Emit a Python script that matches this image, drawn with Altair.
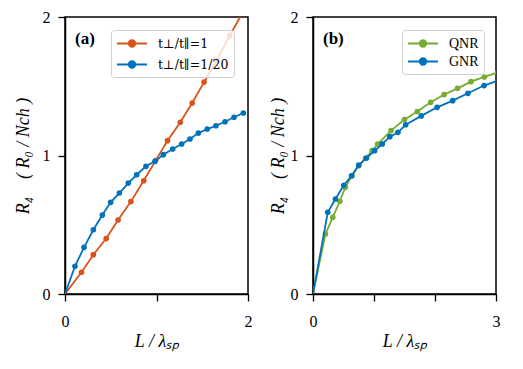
import altair as alt
import pandas as pd

# Panel (a)
a_names = ["t⊥/t∥=1", "t⊥/t∥=1/20"]
a1_x = [0, 0.18, 0.31, 0.45, 0.58, 0.72, 0.86, 0.99, 1.12, 1.26, 1.39, 1.52, 1.66, 1.80, 1.94]
a1_y = [0, 0.157, 0.284, 0.40, 0.534, 0.667, 0.818, 0.963, 1.107, 1.24, 1.379, 1.53, 1.69, 1.865, 2.03]
a2_x = [0, 0.109, 0.208, 0.31, 0.408, 0.499, 0.594, 0.692, 0.783, 0.885, 0.984, 1.075,
        1.177, 1.275, 1.366, 1.457, 1.555, 1.650, 1.749, 1.847, 1.949]
a2_y = [0, 0.2, 0.337, 0.464, 0.570, 0.662, 0.729, 0.801, 0.861, 0.922, 0.958, 1.006,
        1.047, 1.083, 1.119, 1.162, 1.191, 1.215, 1.244, 1.276, 1.307]

# Panel (b)
b_names = ["QNR", "GNR"]
b1_x = [0, 0.204, 0.324, 0.44, 0.53, 0.64, 0.75, 0.86, 0.97, 1.06, 1.28, 1.50, 1.71, 1.93,
        2.15, 2.37, 2.59, 2.81, 3.03]
b1_y = [0, 0.433, 0.554, 0.67, 0.77, 0.854, 0.926, 0.98, 1.035, 1.083, 1.18, 1.26, 1.318,
        1.384, 1.44, 1.485, 1.533, 1.567, 1.60]
b2_x = [0, 0.242, 0.368, 0.505, 0.632, 0.75, 0.878, 1.01, 1.135, 1.26, 1.393, 1.52, 1.775,
        2.035, 2.29, 2.54, 2.805, 3.06]
b2_y = [0, 0.59, 0.686, 0.785, 0.854, 0.931, 0.982, 1.035, 1.083, 1.136, 1.167, 1.222, 1.286,
        1.348, 1.396, 1.449, 1.505, 1.545]

y_ticks = [0, 1, 2]

a_colors = ["#D95319", "#0072BD"]
b_colors = ["#77AC30", "#0072BD"]

FONT = "Liberation Serif"
# legend glyph: a line with a dot in the middle (unit = sqrt(size)/2)
SYM = "M-1,0H3M1.44,0A0.44,0.44,0,1,1,0.56,0A0.44,0.44,0,1,1,1.44,0Z"
Y_TITLE = "R₄\u2003( R₀ / Nch )"


def series_df(xs, ys, name):
    return pd.DataFrame({"x": xs, "y": ys, "s": name, "m": [i > 0 for i in range(len(xs))]})


def panel(series, names, colors, xmax, xticks, xlabels, tag, lx, lfont, lsize, rowpad, tpad):
    xlab_expr = " || ".join(f"datum.value == {v}" for v in xlabels)
    xenc = alt.X("x:Q", scale=alt.Scale(domain=[0, xmax], nice=False),
                 axis=alt.Axis(values=xticks, title="L / λₛₚ",
                               labelExpr=f"({xlab_expr}) ? format(datum.value, 'd') : ''"))
    yenc = alt.Y("y:Q", scale=alt.Scale(domain=[0, 2], nice=False),
                 axis=alt.Axis(values=y_ticks, title=Y_TITLE, titlePadding=tpad,
                               labelExpr="format(datum.value, 'd')",
                               labelOverlap=False, labelSeparation=0))
    cenc = alt.Color("s:N", scale=alt.Scale(domain=names, range=colors),
                     legend=alt.Legend(title=None, orient="none", legendX=lx, legendY=13,
                                       symbolType=SYM, symbolSize=225, symbolStrokeWidth=1.8,
                                       labelFont=lfont, labelFontSize=lsize,
                                       fillColor="rgba(255,255,255,0.8)", strokeColor="#d0d0d0",
                                       cornerRadius=3, padding=5, rowPadding=rowpad,
                                       labelOffset=25))
    layers = []
    for df in series:
        layers.append(alt.Chart(df).mark_line(clip=True, strokeWidth=1.8).encode(
            x=xenc, y=yenc, color=cenc))
        layers.append(alt.Chart(df).mark_point(clip=True, filled=True, size=32, opacity=1).encode(
            x=xenc, y=yenc, color=cenc).transform_filter("datum.m"))
    label = alt.Chart(pd.DataFrame({"t": [tag]})).mark_text(
        font=FONT, fontSize=17, fontWeight="bold", align="left", baseline="middle").encode(
        text="t:N", x=alt.value(10), y=alt.value(22))
    return alt.layer(*layers, label).properties(width=183, height=277)


left = panel([series_df(a1_x, a1_y, a_names[0]), series_df(a2_x, a2_y, a_names[1])],
             a_names, a_colors, 2, [0, 1, 2], [0, 2], "(a)", 46, "DejaVu Serif", 12.5, 5, 10)
right = panel([series_df(b1_x, b1_y, b_names[0]), series_df(b2_x, b2_y, b_names[1])],
              b_names, b_colors, 3, [0, 1, 2, 3], [0, 3], "(b)", 89, FONT, 14, 2, 3)

chart = alt.hconcat(left, right, spacing=15, background="white",
                    padding={"left": 5, "top": 0, "right": 5, "bottom": 5}).resolve_scale(
    color="independent").configure_view(
    stroke="black", strokeWidth=1.5).configure_axis(
    grid=False, domainColor="black", domainWidth=1.5, tickColor="black", tickWidth=1.3,
    tickSize=7, labelFont=FONT, labelFontSize=16, labelColor="black", labelPadding=6,
    titleFont=FONT, titleFontSize=18, titleFontWeight="normal", titleFontStyle="italic",
    titleColor="black", labelFlush=False).configure_axisX(
    labelPadding=12, titlePadding=3).configure_axisY(labelPadding=8)

chart.save("out.html", embed_options={"renderer": "svg", "actions": False})
